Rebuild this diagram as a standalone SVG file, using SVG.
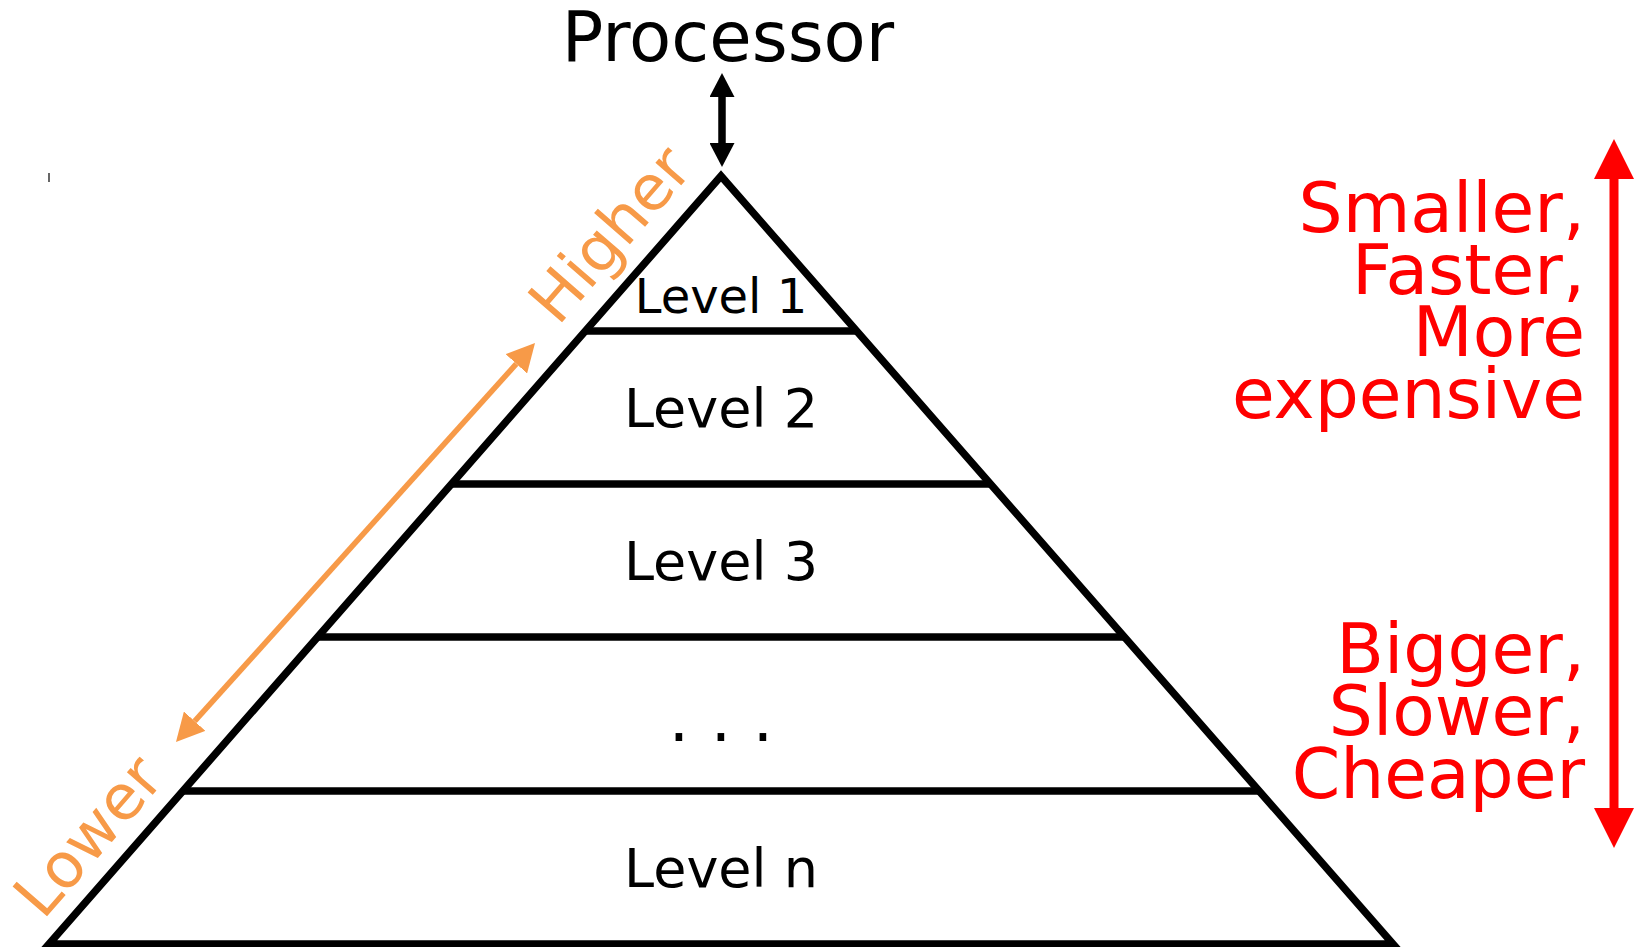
<svg xmlns="http://www.w3.org/2000/svg" width="1639" height="947" viewBox="0 0 1639 947">
<style>
  .lbl { font-family: "DejaVu Sans", "Verdana", sans-serif; }
  .lvl { font-family: "DejaVu Sans", sans-serif; fill: #000; text-anchor: middle; font-size: 54px; }
  .red { font-family: "DejaVu Sans", sans-serif; fill: #ff0000; text-anchor: end; font-size: 69.5px; }
  .org { font-family: "DejaVu Sans", sans-serif; fill: #f79a48; font-size: 62.5px; }
  .edge { stroke: #000; stroke-width: 7.5; fill: none; }
</style>
<defs>
  <marker id="ahBlack" markerUnits="userSpaceOnUse" markerWidth="24" markerHeight="25" refX="0" refY="12.5" orient="auto-start-reverse" viewBox="0 0 24 25">
    <path d="M0,0 L24,12.5 L0,25 z" fill="#000"/>
  </marker>
  <marker id="ahOrange" markerUnits="userSpaceOnUse" markerWidth="28" markerHeight="29" refX="0" refY="14.5" orient="auto-start-reverse" viewBox="0 0 28 29">
    <path d="M0,0 L28,14.5 L0,29 z" fill="#f79a48"/>
  </marker>
  <marker id="ahRed" markerUnits="userSpaceOnUse" markerWidth="40" markerHeight="40" refX="0" refY="20" orient="auto-start-reverse" viewBox="0 0 40 40">
    <path d="M0,0 L40,20 L0,40 z" fill="#ff0000"/>
  </marker>
</defs>
<rect width="1639" height="947" fill="#fff"/>

<g id="pyramid">
  <polygon class="edge" points="721,176 1393,944 49,944" stroke-linejoin="miter" stroke-miterlimit="10"/>
  <line class="edge" x1="585" y1="331" x2="857" y2="331"/>
  <line class="edge" x1="451" y1="484" x2="991" y2="484"/>
  <line class="edge" x1="317" y1="637" x2="1125" y2="637"/>
  <line class="edge" x1="183" y1="791" x2="1259" y2="791"/>
</g>

<g id="processor">
  <text class="lbl" x="728" y="61" font-size="69" text-anchor="middle" fill="#000">Processor</text>
</g>

<g id="level1"><text class="lvl" x="721" y="313" style="font-size:48px">Level 1</text></g>
<g id="level2"><text class="lvl" x="721" y="427">Level 2</text></g>
<g id="level3"><text class="lvl" x="721" y="580">Level 3</text></g>
<g id="levelDots"><text class="lvl" x="679 700 721 742 763" y="741" style="font-size:64px">. . .</text></g>
<g id="levelN"><text class="lvl" x="721" y="887">Level n</text></g>

<g id="higher"><text class="org" transform="translate(558,327) rotate(-49)">Higher</text></g>
<g id="lower"><text class="org" transform="translate(43,921) rotate(-49)">Lower</text></g>

<g id="top-text">
  <text class="red" x="1585" y="232">Smaller,</text>
  <text class="red" x="1585" y="294">Faster,</text>
  <text class="red" x="1585" y="356">More</text>
  <text class="red" x="1585" y="418">expensive</text>
</g>
<g id="bottom-text">
  <text class="red" x="1585" y="673">Bigger,</text>
  <text class="red" x="1585" y="735">Slower,</text>
  <text class="red" x="1585" y="798">Cheaper</text>
</g>

<g id="tick"><line x1="49" y1="173" x2="49" y2="182" stroke="#000" stroke-width="1.2"/></g>

<g id="connectors">
  <line x1="722" y1="97" x2="722" y2="143" stroke="#000" stroke-width="7.5" marker-start="url(#ahBlack)" marker-end="url(#ahBlack)"/>
  <line x1="194.7" y1="721.2" x2="516.3" y2="363.8" stroke="#f79a48" stroke-width="5.5" marker-start="url(#ahOrange)" marker-end="url(#ahOrange)"/>
  <line x1="1614" y1="179" x2="1614" y2="808" stroke="#ff0000" stroke-width="9" marker-start="url(#ahRed)" marker-end="url(#ahRed)"/>
</g>
</svg>
